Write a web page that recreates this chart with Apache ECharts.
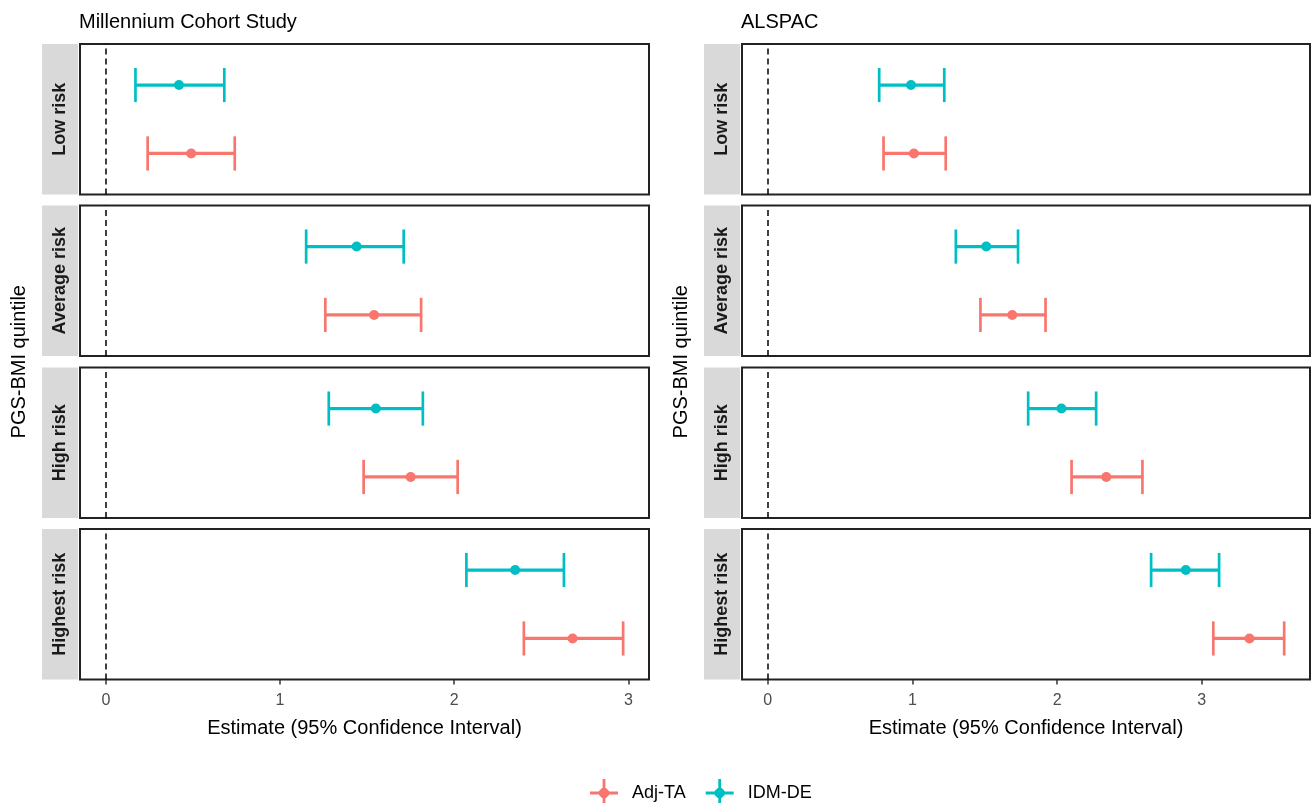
<!DOCTYPE html>
<html>
<head>
<meta charset="utf-8">
<script src="https://cdn.jsdelivr.net/npm/echarts@6/dist/echarts.min.js"></script>
<style>
  html, body { margin: 0; padding: 0; background: #fff; }
  #chart { width: 1312px; height: 803px; }
</style>
</head>
<body>
<div id="chart"></div>
<script>
// facets
const studies = ['Millennium Cohort Study', 'ALSPAC']
const riskGroups = ['Low risk', 'Average risk', 'High risk', 'Highest risk']
const methods = ['Adj-TA', 'IDM-DE']
const xTicks = [0, 1, 2, 3]

// Millennium Cohort Study
const mcsAdjEst = [0.49, 1.54, 1.75, 2.68]
const mcsAdjLow = [0.24, 1.26, 1.48, 2.40]
const mcsAdjHigh = [0.74, 1.81, 2.02, 2.97]
const mcsIdmEst = [0.42, 1.44, 1.55, 2.35]
const mcsIdmLow = [0.17, 1.15, 1.28, 2.07]
const mcsIdmHigh = [0.68, 1.71, 1.82, 2.63]

// ALSPAC
const alsAdjEst = [1.01, 1.69, 2.34, 3.33]
const alsAdjLow = [0.80, 1.47, 2.10, 3.08]
const alsAdjHigh = [1.23, 1.92, 2.59, 3.57]
const alsIdmEst = [0.99, 1.51, 2.03, 2.89]
const alsIdmLow = [0.77, 1.30, 1.80, 2.65]
const alsIdmHigh = [1.22, 1.73, 2.27, 3.12]

const colors = { 'Adj-TA': '#F8766D', 'IDM-DE': '#00BFC4' }
const FONT = '"Liberation Sans", Arial, sans-serif'

// layout
const colLeft = [80, 742]
const colWidth = [569, 568]
const rowTop = [44, 205.5, 367.5, 529]
const rowHeight = 150.5
const stripWidth = 36

const studyData = [
  { 'Adj-TA': [mcsAdjLow, mcsAdjEst, mcsAdjHigh], 'IDM-DE': [mcsIdmLow, mcsIdmEst, mcsIdmHigh] },
  { 'Adj-TA': [alsAdjLow, alsAdjEst, alsAdjHigh], 'IDM-DE': [alsIdmLow, alsIdmEst, alsIdmHigh] }
]

// ggplot-like 5% expansion, including the 0 reference line
function xRange(d) {
  const lo = Math.min(0, ...d['Adj-TA'][0], ...d['IDM-DE'][0])
  const hi = Math.max(0, ...d['Adj-TA'][2], ...d['IDM-DE'][2])
  const pad = (hi - lo) * 0.05
  return [lo - pad, hi + pad]
}

function renderErrorBar(params, api) {
  const y = api.value(0)
  const lo = api.coord([api.value(1), y])
  const est = api.coord([api.value(2), y])
  const hi = api.coord([api.value(3), y])
  const capTop = api.coord([api.value(1), y + 0.25])[1]
  const capBot = api.coord([api.value(1), y - 0.25])[1]
  const color = api.visual('color')
  const cap = { stroke: color, lineWidth: 2.7 }
  return {
    type: 'group',
    children: [
      { type: 'line', shape: { x1: lo[0], y1: lo[1], x2: hi[0], y2: hi[1] }, style: { stroke: color, lineWidth: 3.2 } },
      { type: 'line', shape: { x1: lo[0], y1: capTop, x2: lo[0], y2: capBot }, style: cap },
      { type: 'line', shape: { x1: hi[0], y1: capTop, x2: hi[0], y2: capBot }, style: cap },
      { type: 'circle', shape: { cx: est[0], cy: est[1], r: 5 }, style: { fill: color } }
    ]
  }
}

const grid = [], xAxis = [], yAxis = [], series = [], graphic = []

studies.forEach((study, c) => {
  const range = xRange(studyData[c])
  riskGroups.forEach((risk, r) => {
    const idx = grid.length
    const bottom = r === riskGroups.length - 1
    grid.push({
      left: colLeft[c], top: rowTop[r], width: colWidth[c], height: rowHeight,
      show: true, borderColor: '#222', borderWidth: 2, backgroundColor: '#fff'
    })
    xAxis.push({
      type: 'value', gridIndex: idx, min: range[0], max: range[1],
      axisLine: { show: false },
      splitLine: { show: false },
      axisTick: { show: bottom, customValues: xTicks, length: 5, lineStyle: { color: '#333', width: 1.5 } },
      axisLabel: { show: bottom, customValues: xTicks, margin: 13, color: '#4D4D4D', fontSize: 16, fontFamily: FONT },
      name: bottom ? 'Estimate (95% Confidence Interval)' : '',
      nameLocation: 'middle', nameGap: 39,
      nameTextStyle: { color: '#000', fontSize: 20, fontFamily: FONT }
    })
    yAxis.push({
      type: 'value', gridIndex: idx, min: 0.4, max: 2.6,
      axisLine: { show: false }, axisTick: { show: false },
      axisLabel: { show: false }, splitLine: { show: false }
    })
    methods.forEach((m, k) => {
      const [low, est, high] = studyData[c][m]
      const s = {
        type: 'custom', name: m, xAxisIndex: idx, yAxisIndex: idx,
        itemStyle: { color: colors[m] },
        renderItem: renderErrorBar,
        encode: { x: [1, 2, 3], y: 0 },
        data: [[k + 1, low[r], est[r], high[r]]],
        z: 3
      }
      if (k === 0) {
        s.markLine = {
          silent: true, symbol: 'none', label: { show: false },
          lineStyle: { color: '#000', type: [6, 4], width: 1.5 },
          data: [{ xAxis: 0 }]
        }
      }
      series.push(s)
    })
    // facet strip
    graphic.push({
      type: 'rect', left: colLeft[c] - stripWidth - 2, top: rowTop[r],
      shape: { width: stripWidth, height: rowHeight }, style: { fill: '#D9D9D9' }
    })
    graphic.push({
      type: 'text', x: colLeft[c] - stripWidth / 2 - 2, y: rowTop[r] + rowHeight / 2,
      rotation: Math.PI / 2,
      style: { text: risk, fill: '#1A1A1A', font: 'bold 18px ' + FONT, align: 'center', verticalAlign: 'middle' }
    })
  })
  graphic.push({
    type: 'text', x: colLeft[c] - stripWidth - 25, y: (rowTop[0] + rowTop[3] + rowHeight) / 2,
    rotation: Math.PI / 2,
    style: { text: 'PGS-BMI quintile', fill: '#000', font: '20px ' + FONT, align: 'center', verticalAlign: 'middle' }
  })
})

const option = {
  backgroundColor: '#fff',
  animation: false,
  title: studies.map((t, c) => ({
    text: t, left: colLeft[c] - 1, top: 12, padding: 0,
    textStyle: { fontSize: 20, fontWeight: 'normal', color: '#000', fontFamily: FONT }
  })),
  legend: {
    data: methods,
    left: 585, top: 774,
    itemWidth: 28, itemHeight: 28, itemGap: 20,
    icon: 'path://M0,12.6H28V15.4H0Z M12.6,0H15.4V28H12.6Z M12,9H16L19,12V16L16,19H12L9,16V12Z',
    textStyle: { fontSize: 18, color: '#000', fontFamily: FONT, padding: [0, 0, 0, 9] }
  },
  grid, xAxis, yAxis, series, graphic
}

const myCharts = echarts.init(document.getElementById('chart'))
myCharts.setOption(option)
window.addEventListener('resize', myCharts.resize)
</script>
</body>
</html>
